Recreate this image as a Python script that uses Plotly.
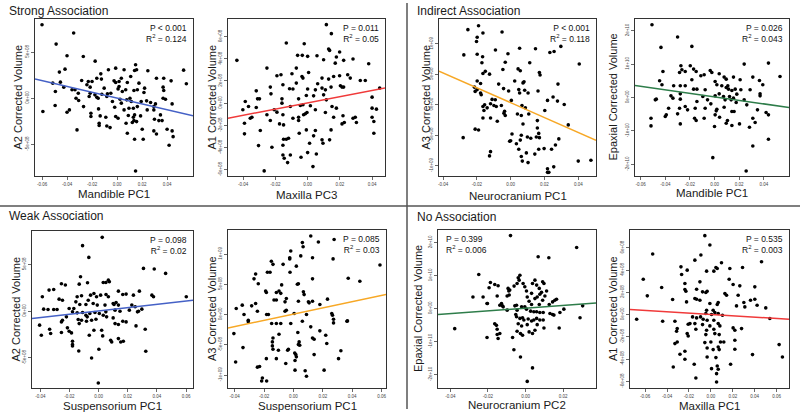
import plotly.graph_objects as go

# ---------------- DATA ----------------
# Panel 1: Strong association, A2 corrected volume (x1e8) vs Mandible PC1
P1_X = [-0.060, -0.0347, -0.0487, -0.040, -0.027, 0.0148, -0.0175, -0.0416, -0.0461, -0.0069, -0.0011, 0.0056, 0.014, 0.0156, 0.0246, 0.0532, -0.013, -0.0162, -0.0283, -0.023, -0.0241, -0.020, -0.0125, -0.0024, -0.0011, 0.0034, 0.0109, 0.0082, 0.0175, 0.0315, 0.0373, 0.0432, 0.0554, -0.0514, -0.0453, -0.0426, -0.0493, -0.036, -0.0336, -0.031, -0.0215, -0.0223, -0.0162, -0.0151, -0.0177, -0.0077, -0.0082, -0.005, 0.0016, 0.0008, 0.0042, 0.0069, 0.0135, 0.0162, 0.022, 0.0215, 0.0368, 0.0373, 0.0387, 0.0368, -0.0037, 0.0024, 0.0034, 0.0077, 0.0103, 0.0114, 0.0193, 0.0236, 0.0268, 0.0307, 0.044, -0.0593, -0.0495, -0.040, -0.0381, -0.0328, -0.0307, -0.0268, -0.0209, -0.0209, -0.0148, -0.0135, -0.009, -0.0019, -0.0011, 0.0008, 0.0095, 0.013, 0.014, 0.013, 0.0135, 0.009, 0.0072, 0.0122, 0.0156, 0.0188, 0.0241, 0.0294, 0.0299, 0.0347, 0.036, 0.0334, -0.032, -0.0143, -0.0143, -0.0082, -0.0056, 0.0082, 0.014, 0.0209, 0.0201, 0.0294, 0.0315, 0.04, 0.044, 0.0448, 0.0416, 0.0148, 0.0016, -0.0103, -0.0122, -0.0215, 0.0294, 0.0056, 0.0162]
P1_Y = [7.97, 7.07, 5.87, 4.60, 4.53, 3.62, 4.02, 3.15, 2.83, 3.08, 3.26, 3.08, 3.01, 3.08, 2.97, 3.04, 2.64, 2.17, 1.92, 1.81, 1.45, 1.81, 2.07, 1.88, 1.70, 2.17, 2.36, 1.70, 1.63, 2.17, 2.17, 1.88, 1.56, 1.63, 1.74, 1.20, 0.72, 0.91, 0.91, 0.54, 0.54, 0.18, 0.11, 0.0, 0.36, 0.47, 0.18, 0.54, 1.27, 1.01, 0.72, 0.91, 0.83, 0.91, 1.09, 0.62, 1.20, 0.83, -0.11, 0.0, -0.36, -0.11, -0.54, -0.18, 0.0, -0.36, -0.36, -0.29, -0.47, -0.62, -0.62, -1.45, -0.80, -1.52, -1.27, 0.0, -0.25, -0.91, -1.99, -1.63, -1.16, -1.92, -2.07, -0.98, -1.99, -2.17, -1.09, -1.09, -1.81, -2.07, -2.43, -1.88, -2.72, -2.64, -2.54, -1.92, -1.27, -1.27, -2.28, -1.81, -2.43, -2.43, -3.44, -2.72, -2.97, -3.01, -3.19, -3.80, -4.46, -4.46, -3.37, -3.55, -3.88, -3.37, -3.55, -4.17, -5.11, -7.90, 1.81, 1.09, 0.43, 1.20, -0.91, -1.27, -0.91]

# Panel 2: A1 corrected volume (x1e8) vs Maxilla PC3
P2_X = [0.0116, 0.0147, -0.0132, -0.0021, 0.013, 0.0136, 0.0198, -0.0438, -0.0062, -0.0033, 0.0, 0.0058, 0.0099, 0.0178, 0.0171, 0.0223, 0.0281, 0.0378, -0.0252, -0.007, -0.019, -0.0165, -0.0097, -0.0035, -0.0029, 0.0006, 0.0062, 0.0089, 0.013, 0.0161, 0.0198, 0.0248, 0.0264, 0.0326, 0.0357, -0.0153, -0.0112, -0.0091, -0.007, 0.0, 0.0048, 0.0089, 0.011, 0.0145, 0.0203, 0.0213, 0.0223, 0.0446, -0.0318, -0.0231, -0.0227, -0.031, -0.0298, -0.0386, -0.0401, -0.0366, -0.0318, -0.0159, -0.0056, -0.0008, 0.0037, 0.0099, 0.0116, -0.0159, -0.0107, -0.0045, -0.0029, 0.0017, 0.0151, 0.0178, 0.0399, 0.0399, 0.0426, -0.0355, -0.0345, -0.0391, -0.0207, -0.019, -0.0153, -0.0252, -0.0231, -0.0174, -0.0149, -0.0091, -0.0056, -0.0025, -0.0014, -0.0004, 0.0048, 0.011, 0.0161, 0.0219, 0.0213, 0.0227, 0.0281, 0.0295, 0.0302, 0.0399, 0.041, 0.041, -0.0391, -0.0293, -0.0056, -0.0052, -0.0008, 0.0012, 0.0037, 0.0048, 0.0089, 0.0095, 0.0136, 0.0145, -0.0304, -0.0221, -0.0153, -0.0118, -0.0132, -0.0149, -0.0107, -0.0153, -0.0145, -0.0124, -0.0041, 0.0, 0.0033, -0.0269, 0.0054]
P2_Y = [7.08, 6.27, 5.42, 5.36, 4.88, 4.76, 4.61, 3.86, 4.31, 4.31, 4.22, 4.28, 3.92, 4.16, 3.61, 3.86, 3.98, 3.55, 3.16, 3.16, 2.47, 2.56, 2.65, 2.41, 2.26, 2.77, 1.75, 2.26, 2.17, 2.41, 2.47, 2.56, 2.26, 2.05, 2.05, 1.66, 1.30, 1.27, 1.81, 1.27, 1.20, 1.36, 1.20, 1.45, 1.57, 1.45, 1.45, 1.36, 1.11, 1.45, 0.84, 0.39, 0.39, 0.15, -0.60, -0.30, -0.39, 0.39, 0.39, 0.69, 0.66, 0.75, 0.30, 0.0, -0.30, -0.21, -0.15, -0.24, -0.30, -0.45, 0.54, -0.45, -0.54, -1.36, -1.27, -1.81, -0.60, -0.81, -1.05, -1.05, -1.57, -1.87, -1.96, -1.36, -1.27, -1.05, -0.96, -0.84, -0.60, -0.84, -1.27, -1.14, -1.87, -1.75, -1.36, -1.27, -1.75, -1.27, -1.66, -2.71, -2.77, -2.47, -1.57, -2.71, -2.41, -3.61, -2.95, -2.47, -3.31, -3.61, -3.31, -2.41, -3.83, -3.98, -3.80, -3.16, -3.25, -3.25, -4.67, -4.67, -4.97, -5.36, -4.88, -4.46, -5.72, -6.11, -4.58]

# Panel 3: A3 corrected volume (x1e8) vs Neurocranium PC1
P3_X = [-0.0253, -0.019, -0.0164, -0.0198, -0.0202, -0.0051, -0.0277, -0.0198, -0.0166, -0.017, -0.009, -0.0016, 0.0053, 0.0147, 0.0232, 0.0257, 0.0297, 0.0113, -0.0032, -0.015, -0.0164, -0.0125, -0.0046, 0.0044, 0.0057, 0.017, 0.0174, 0.0406, -0.0198, -0.0178, -0.0071, -0.0042, -0.0012, 0.0024, 0.0048, 0.0053, 0.0073, 0.0079, 0.0083, 0.0103, 0.0162, 0.028, -0.021, -0.0198, -0.0178, -0.0174, -0.0214, -0.011, -0.0091, -0.0119, -0.0154, -0.0164, -0.0139, -0.0099, -0.0085, -0.0055, -0.0036, -0.004, -0.0032, 0.0004, 0.0067, 0.0087, 0.004, 0.0107, 0.0218, 0.0251, 0.0277, 0.0317, 0.0202, -0.0158, -0.0079, -0.0119, -0.0164, -0.021, -0.019, -0.0281, 0.0063, 0.0073, 0.0158, 0.0158, 0.0063, 0.0008, 0.0057, 0.0099, 0.0119, 0.0152, 0.0166, 0.017, 0.0285, 0.0341, 0.0265, 0.0, -0.0006, 0.0034, 0.0048, 0.0093, 0.0143, 0.0166, 0.0198, 0.0242, -0.0119, -0.0125, 0.0063, 0.0069, 0.0103, 0.0218, 0.0218, 0.0226, 0.0255, 0.04, 0.0475]
P3_Y = [12.35, 13.0, 11.8, 11.1, 10.4, 11.97, 8.2, 8.3, 7.9, 6.9, 9.0, 8.4, 9.3, 9.2, 8.6, 8.75, 9.6, 6.9, 7.0, 5.5, 5.15, 5.04, 5.8, 5.9, 5.6, 5.3, 4.9, 6.7, 3.9, 3.5, 3.4, 2.66, 2.27, 3.9, 2.5, 1.94, 3.6, 3.77, 2.38, 1.94, 2.27, 3.4, 2.2, 2.5, 1.94, 1.66, 2.9, 0.89, 0.83, 0.17, 0.0, -0.28, -0.5, -0.11, -0.28, -0.11, -1.05, -1.39, -1.77, 0.72, -0.11, -0.5, -1.5, -1.5, 0.72, 1.27, 0.61, 0.06, -0.94, -0.94, -2.7, -2.16, -2.16, -4.0, -4.15, -5.4, -1.77, -3.16, -2.6, -3.8, -5.0, -4.8, -5.8, -5.3, -5.5, -5.3, -4.7, -5.4, -5.6, -3.3, -6.6, -5.9, -6.0, -6.4, -7.3, -7.9, -8.1, -7.3, -7.2, -7.3, -7.7, -8.4, -8.5, -9.25, -9.5, -10.5, -11.1, -11.1, -10.2, -9.25, -9.1]

# Panel 4: Epaxial corrected volume (x1e10) vs Mandible PC1
P4_X = [-0.0508, -0.03, -0.0435, -0.0184, 0.0241, 0.0438, -0.0273, -0.0265, -0.0419, -0.0284, -0.0238, -0.0197, -0.017, -0.0149, -0.0111, -0.0084, -0.0035, -0.0022, 0.0038, 0.0078, 0.0095, 0.0154, 0.0208, 0.0311, 0.0365, 0.0392, 0.0532, -0.0446, -0.0427, -0.0332, -0.0278, -0.0238, -0.017, -0.0143, -0.0184, -0.0076, 0.0005, 0.0019, 0.0059, 0.0095, 0.0108, 0.0114, 0.0141, 0.0168, 0.0181, 0.0214, 0.0289, 0.037, 0.037, -0.0354, -0.0338, -0.0278, -0.0278, -0.0473, -0.0481, -0.0095, -0.0057, -0.003, 0.0005, 0.0038, 0.0073, 0.0086, 0.0122, 0.0135, 0.0154, 0.0176, 0.0241, 0.0262, -0.0143, -0.0373, -0.0284, -0.0238, -0.0157, -0.0076, 0.0019, 0.0014, 0.0078, 0.0141, 0.0159, 0.0349, 0.0419, -0.0392, -0.04, -0.03, -0.0219, -0.0162, -0.0149, -0.0084, 0.0005, 0.0041, 0.0095, 0.0105, 0.0141, 0.0438, -0.0516, -0.0516, -0.0278, 0.0, 0.0203, 0.0284, 0.0311, 0.033, 0.0438, 0.0311, -0.0014, 0.0257]
P4_Y = [2.18, 1.81, 1.50, 1.53, 1.0, 1.03, 0.95, 0.83, 0.78, 0.75, 0.78, 0.95, 0.85, 0.78, 0.65, 0.68, 0.81, 0.75, 0.71, 0.61, 0.55, 0.61, 0.53, 0.61, 0.51, 0.38, 0.63, 0.5, 0.38, 0.35, 0.35, 0.35, 0.25, 0.25, 0.53, 0.23, 0.48, 0.38, 0.35, 0.3, 0.35, 0.25, 0.21, 0.25, 0.1, 0.23, 0.23, 0.05, 0.11, 0.05, -0.02, 0.11, -0.05, -0.05, -0.07, 0.03, -0.07, -0.19, 0.05, 0.11, 0.03, -0.07, 0.03, -0.07, -0.02, -0.15, -0.07, -0.22, -0.12, -0.32, -0.32, -0.27, -0.32, -0.32, -0.35, -0.4, -0.29, -0.42, -0.42, -0.37, -0.45, -0.52, -0.57, -0.49, -0.37, -0.62, -0.69, -0.62, -0.52, -0.59, -0.77, -0.69, -0.84, -0.52, -0.62, -0.85, -0.79, -0.87, -0.79, -0.89, -0.62, -0.75, -1.25, -1.45, -1.8, -2.2]

# Panel 5: Weak association, A2 corrected volume (x1e8) vs Suspensorium PC1
P5_X = [0.0025, -0.011, -0.0067, 0.0308, 0.0382, 0.046, -0.0124, 0.0067, 0.0074, -0.0255, -0.0228, -0.0133, -0.0076, 0.0032, 0.005, -0.034, -0.0308, -0.0386, -0.0271, -0.0248, -0.0147, -0.0117, -0.0055, -0.0032, -0.0014, 0.0014, 0.0051, 0.0067, 0.0136, 0.0166, 0.0189, 0.0239, 0.028, 0.0366, 0.0377, 0.0602, -0.0156, -0.0129, -0.0087, -0.0071, -0.0037, -0.0009, 0.0044, 0.01, 0.0106, 0.012, 0.0136, 0.0228, 0.0251, -0.0377, -0.0347, -0.0308, -0.0285, -0.0202, -0.0179, -0.0147, -0.017, -0.011, -0.0087, -0.0078, -0.006, -0.0025, 0.0005, 0.0032, 0.005, 0.0113, 0.0147, 0.0211, 0.0267, 0.0274, 0.0297, -0.0405, -0.0221, -0.0248, -0.0255, -0.014, -0.0133, -0.0117, -0.0083, -0.0048, -0.0018, 0.0055, 0.01, 0.0113, 0.0136, 0.0166, 0.0189, 0.0257, 0.032, -0.0336, -0.0329, -0.0393, -0.0255, -0.0214, -0.0202, -0.0186, -0.0032, 0.0021, 0.0028, 0.0083, 0.009, 0.0136, 0.0152, 0.017, -0.0179, -0.0179, -0.0179, -0.0136, 0.0002, -0.0048, 0.0324, -0.0002, -0.0064]
P5_Y = [7.92, 7.03, 5.77, 4.59, 4.52, 4.05, 3.69, 3.33, 3.15, 2.94, 2.8, 2.9, 3.05, 3.08, 3.08, 2.26, 2.33, 1.54, 1.29, 1.18, 1.54, 1.65, 1.72, 1.9, 1.54, 1.72, 1.79, 1.54, 2.15, 1.79, 1.83, 1.72, 2.15, 1.72, 1.54, 1.54, 1.0, 0.72, 0.72, 1.18, 0.82, 0.65, 0.65, 0.82, 0.72, 0.93, 0.65, 0.65, 0.47, 0.22, 0.18, 0.18, 0.18, 0.29, -0.07, -0.18, 0.29, -0.14, -0.43, -0.61, -0.25, -0.14, -0.25, -0.43, -0.07, 0.11, 0.0, 0.11, -0.07, 0.0, 0.22, -1.5, -0.61, -0.97, -1.15, -0.9, -1.33, -0.97, -1.08, -0.97, -0.86, -0.61, -0.72, -1.33, -1.43, -1.08, -1.15, -1.58, -1.94, -1.94, -2.4, -2.58, -2.29, -1.79, -2.15, -2.33, -2.04, -2.04, -2.65, -3.12, -3.3, -2.94, -3.3, -3.23, -3.23, -3.58, -3.73, -4.27, -4.09, -5.02, -4.3, -7.71, -2.58]

# Panel 6: A3 corrected volume (x1e8) vs Suspensorium PC1
P6_X = [0.0118, 0.0061, 0.0066, 0.017, 0.0277, -0.0018, 0.013, 0.027, 0.005, -0.0025, -0.0025, -0.015, -0.0139, -0.007, 0.002, 0.0589, -0.0177, -0.0159, -0.0257, -0.0023, -0.0268, -0.0239, -0.008, 0.0034, 0.0027, 0.013, 0.0373, 0.0452, -0.0189, -0.0184, -0.0116, -0.0098, -0.0086, -0.0048, -0.0057, -0.0132, -0.0116, 0.0068, 0.0073, 0.0034, 0.0102, 0.0107, 0.013, 0.018, 0.0232, -0.0257, -0.0284, -0.0348, -0.0389, -0.0245, -0.0182, -0.017, -0.0307, -0.0307, -0.0057, -0.0048, 0.0005, 0.0089, 0.0261, 0.0266, 0.0273, 0.0273, 0.0368, -0.0336, -0.0405, -0.0393, -0.0343, -0.0245, -0.023, -0.0211, -0.0216, -0.0182, -0.0184, -0.0148, -0.0116, -0.0086, -0.0098, -0.0139, -0.0143, -0.0143, -0.0139, -0.0102, -0.0116, -0.0039, -0.0034, -0.0018, -0.0052, 0.0009, 0.0016, 0.002, 0.0011, 0.0011, 0.003, 0.0039, 0.0034, 0.0043, 0.0061, 0.0118, 0.013, 0.0141, 0.0141, 0.008, 0.0089, 0.018, 0.022, 0.0227, 0.0209, 0.0307, 0.0323, 0.0364]
P6_Y = [13.0, 11.9, 11.2, 12.0, 12.4, 10.5, 9.4, 9.2, 9.7, 9.4, 9.2, 8.8, 8.3, 8.3, 8.0, 8.2, 7.0, 7.0, 6.7, 7.0, 5.9, 5.1, 4.9, 5.1, 5.0, 5.9, 6.0, 5.5, 3.9, 3.65, 3.65, 3.9, 3.5, 2.65, 2.1, 2.4, 2.4, 3.75, 3.3, 2.2, 2.1, 1.93, 2.2, 1.66, 2.54, 1.82, 1.44, 1.55, 0.99, 0.55, 0.0, 0.0, -0.94, -1.2, 0.55, 0.72, 0.17, 0.0, 0.17, -0.11, -0.77, -1.38, -1.05, 0.0, -3.15, -7.85, -5.47, -8.7, -8.6, -10.5, -11.0, -11.0, -7.3, -1.49, -1.49, -1.49, -3.26, -3.87, -4.53, -5.19, -5.75, -5.9, -7.3, -5.9, -5.75, -1.49, -8.1, -6.35, -6.63, -7.0, -7.6, -9.2, -2.98, -4.53, -4.97, -5.08, -1.1, -2.04, -3.87, -4.09, -6.63, -9.3, -10.2, -2.7, -3.43, -4.8, -9.2, -7.3, -6.0, -1.1]

# Panel 7: No association, Epaxial corrected volume (x1e10) vs Neurocranium PC2
P7_X = [-0.008, 0.0272, 0.0067, 0.0124, -0.0249, -0.0187, -0.0164, -0.0146, -0.0194, -0.0226, -0.0205, -0.0151, -0.0137, -0.0128, -0.0119, -0.0093, -0.0089, -0.0084, -0.0087, -0.0098, -0.0061, -0.0039, -0.003, -0.0034, -0.0045, -0.0013, -0.0004, 0.0005, 0.0009, 0.0019, 0.0037, 0.005, 0.0059, 0.0073, 0.0076, 0.0085, 0.0091, 0.0098, 0.0103, 0.0112, 0.0032, 0.005, 0.0062, 0.0032, 0.0073, 0.0091, 0.0126, 0.0144, 0.0156, 0.0165, 0.0204, 0.0304, 0.029, -0.028, -0.0203, -0.0123, -0.0098, -0.0057, -0.0048, -0.0045, -0.0021, -0.0004, 0.0005, 0.0027, 0.0044, 0.0059, 0.0076, 0.0094, 0.013, 0.0144, 0.0151, 0.0183, -0.0052, -0.0048, -0.003, -0.0016, -0.0009, 0.0014, 0.0032, 0.0044, 0.0059, 0.0076, 0.0094, -0.0039, -0.0021, 0.0009, 0.0062, 0.0098, 0.0179, -0.0164, -0.0155, -0.0151, -0.0151, -0.0146, -0.0137, -0.0205, -0.0045, -0.0027, -0.0016, 0.0019, 0.0037, 0.005, -0.0069, -0.0377, -0.0062, -0.0027, 0.0037, 0.0009]
P7_Y = [2.21, 1.85, 1.57, 1.54, 1.03, 0.79, 0.73, 0.69, 0.63, 0.35, 0.15, 0.38, 0.10, 0.15, 0.05, 0.61, 0.53, 0.56, 0.41, 0.38, 0.68, 0.93, 1.01, 0.86, 0.76, 0.76, 0.66, 0.53, 0.35, 0.22, 0.76, 0.86, 0.71, 0.61, 0.43, 0.49, 0.81, 0.76, 0.38, 0.53, 0.46, 0.30, 0.35, 0.12, 0.12, 0.25, 0.12, 0.20, 0.25, 0.28, -0.02, 0.08, -0.28, 0.35, 0.15, 0.08, -0.05, 0.08, 0.10, -0.05, 0.05, 0.05, -0.02, -0.08, -0.10, -0.10, -0.12, -0.12, -0.15, -0.18, -0.20, -0.12, -0.18, -0.25, -0.30, -0.28, -0.35, -0.32, -0.38, -0.35, -0.30, -0.35, -0.35, -0.46, -0.53, -0.49, -0.49, -0.59, -0.59, -0.46, -0.51, -0.63, -0.79, -0.91, -0.76, -0.88, -0.69, -0.76, -0.81, -0.71, -0.76, -0.66, -0.88, -0.61, -1.25, -1.47, -1.80, -2.21]

# Panel 8: A1 corrected volume (x1e8) vs Maxilla PC1
P8_X = [-0.0055, -0.0009, -0.0531, -0.0091, -0.0146, 0.0462, -0.0273, 0.0046, 0.0058, 0.0097, 0.0173, 0.0289, -0.0216, -0.0039, 0.0027, -0.0267, -0.0617, 0.0167, -0.0237, -0.01, 0.0203, 0.0264, 0.0401, -0.0449, -0.0237, -0.0228, -0.013, -0.0076, -0.0046, -0.0034, 0.0128, 0.0143, 0.0249, 0.0362, 0.0401, -0.058, -0.0349, -0.0222, -0.0146, -0.013, -0.01, -0.0009, 0.0058, 0.0067, 0.0234, 0.0301, 0.031, 0.0422, 0.0501, -0.0039, 0.0021, 0.0036, -0.0046, 0.0006, 0.0067, 0.0106, -0.0677, -0.044, -0.0167, -0.013, -0.0094, -0.0328, -0.0207, -0.0191, -0.0146, -0.007, -0.0076, -0.0034, 0.0027, 0.0067, 0.0082, -0.0009, -0.0307, -0.0313, -0.0137, -0.0039, 0.0027, 0.0203, 0.0219, 0.028, -0.0216, -0.0207, -0.0046, 0.0036, 0.0076, -0.0328, -0.0307, -0.0055, 0.0, 0.0088, 0.0118, 0.0219, 0.0219, -0.0282, -0.0237, -0.0237, -0.0034, 0.0021, 0.0067, 0.0076, -0.0034, 0.0046, 0.0623, 0.0653, 0.038, -0.0343, -0.0152, 0.018, 0.0006, 0.0058, 0.0067, 0.0052, -0.0137, 0.0052, 0.0538]
P8_Y = [7.09, 6.25, 5.44, 5.35, 4.89, 4.74, 4.29, 4.23, 4.14, 4.65, 4.14, 4.23, 3.99, 3.9, 3.9, 3.6, 3.18, 3.18, 2.79, 2.94, 2.7, 2.58, 2.49, 2.43, 2.25, 2.1, 2.28, 2.04, 1.98, 2.1, 1.89, 1.74, 1.74, 1.29, 1.38, 1.68, 1.35, 1.14, 1.44, 1.38, 1.29, 0.99, 0.9, 1.08, 0.78, 1.08, 0.69, 0.84, 0.6, 0.39, 0.39, 0.18, 0.09, 0.0, 0.09, -0.06, -0.42, -0.6, -0.21, -0.3, -0.21, -0.6, -0.87, -0.81, -0.81, -0.42, -0.9, -0.51, -0.51, -0.81, -1.02, -1.02, -1.26, -1.5, -1.32, -1.41, -1.32, -1.2, -1.41, -1.26, -1.71, -1.92, -1.8, -1.71, -1.8, -2.61, -2.46, -2.52, -2.46, -2.46, -2.46, -2.31, -3.12, -3.57, -3.3, -4.02, -3.0, -3.15, -2.91, -3.15, -3.81, -3.87, -2.7, -3.81, -3.6, -4.71, -4.47, -4.47, -4.86, -4.62, -4.92, -5.31, -5.7, -6.06, -0.36]

# Fitted regression lines (slope, intercept in the same scaled units as y)
FIT_SLOPE = [-31.6, 28.0, -122.3, -5.28, 17.8, 51.3, 4.18, -6.0]
FIT_INTERCEPT = [0.0, 0.02, 0.35, 0.02, 0.02, 0.07, 0.011, 0.008]
Y_SCALE = [1e8, 1e8, 1e8, 1e10, 1e8, 1e8, 1e10, 1e8]

P_TEXT = ["P < 0.001", "P = 0.011", "P < 0.001", "P = 0.026", "P = 0.098", "P = 0.085", "P = 0.399", "P = 0.535"]
R2_TEXT = ["0.124", "0.05", "0.118", "0.043", "0.02", "0.03", "0.006", "0.003"]

X_TITLES = ["Mandible PC1", "Maxilla PC3", "Neurocranium PC1", "Mandible PC1",
            "Suspensorium PC1", "Suspensorium PC1", "Neurocranium PC2", "Maxilla PC1"]
Y_TITLES = ["A2 Corrected Volume", "A1 Corrected Volume", "A3 Corrected Volume", "Epaxial Corrected Volume",
            "A2 Corrected Volume", "A3 Corrected Volume", "Epaxial Corrected Volume", "A1 Corrected Volume"]
GROUP_TITLES = ["Strong Association", "Indirect Association", "Weak Association", "No Association"]

X_TICKS = [
    [-0.06, -0.04, -0.02, 0.0, 0.02, 0.04],
    [-0.04, -0.02, 0.0, 0.02, 0.04],
    [-0.04, -0.02, 0.0, 0.02, 0.04],
    [-0.06, -0.04, -0.02, 0.0, 0.02, 0.04],
    [-0.04, -0.02, 0.0, 0.02, 0.04, 0.06],
    [-0.04, -0.02, 0.0, 0.02, 0.04, 0.06],
    [-0.04, -0.02, 0.0, 0.02],
    [-0.06, -0.04, -0.02, 0.0, 0.02, 0.04, 0.06],
]
Y_TICKS = [
    [-5e8, 0, 5e8],
    [-6e8, -4e8, -2e8, 0, 2e8, 4e8, 6e8],
    [-1e9, -5e8, 0, 5e8, 1e9],
    [-2e10, -1e10, 0, 1e10, 2e10],
    [-5e8, 0, 5e8],
    [-1e9, -5e8, 0, 5e8, 1e9],
    [-2e10, -1e10, 0, 1e10, 2e10],
    [-6e8, -4e8, -2e8, 0, 2e8, 4e8, 6e8],
]

XS = [P1_X, P2_X, P3_X, P4_X, P5_X, P6_X, P7_X, P8_X]
YS = [P1_Y, P2_Y, P3_Y, P4_Y, P5_Y, P6_Y, P7_Y, P8_Y]

# ---------------- LAYOUT GEOMETRY (pixels) ----------------
W, H = 800, 419
BOXES = [  # left, right, top, bottom
    (35, 193, 19, 176), (228, 385, 19, 176), (439, 596, 19, 176), (635, 789, 19, 176),
    (32, 193, 231, 388), (228, 386, 230, 388), (438, 596, 230, 388), (630, 789, 230, 388),
]
X_RANGES = [(-0.0656, 0.0607), (-0.0493, 0.0479), (-0.0424, 0.0505), (-0.0646, 0.0605),
            (-0.0457, 0.0648), (-0.0445, 0.063), (-0.0466, 0.0375), (-0.0738, 0.0713)]
Y_RANGES_S = [(-8.44, 8.59), (-6.57, 7.59), (-11.7, 14.1), (-2.35, 2.35),
              (-8.24, 8.6), (-12.15, 13.98), (-2.41, 2.38), (-6.6, 7.6)]
LINE_COLORS = ["#4561c6", "#f03a3a", "#f7a826", "#2e7d4a", "#4561c6", "#f7a826", "#2e7d4a", "#f03a3a"]
YTITLE_X = [17, 211, 425, 612, 15, 212, 418, 613]
XTITLE_Y = [194, 195, 196, 193, 406, 406, 405, 406]
FONT = "Liberation Sans, Arial, Helvetica, sans-serif"


def px(x):
    return x / W


def py(y):
    return 1 - y / H


def fmt_x(v):
    return f"{v:.2f}"


def fmt_y(v):
    if v == 0:
        return "0e+00"
    return f"{v:.0e}"


fig = go.Figure()
annotations = []
layout_axes = {}

for i in range(8):
    n = min(len(XS[i]), len(YS[i]))
    xs = XS[i][:n]
    ys = [v * Y_SCALE[i] for v in YS[i][:n]]
    sfx = "" if i == 0 else str(i + 1)
    xa, ya = "x" + sfx, "y" + sfx
    fig.add_trace(go.Scatter(x=xs, y=ys, mode="markers", xaxis=xa, yaxis=ya,
                             marker=dict(size=3.6, color="black", line=dict(width=0)),
                             showlegend=False, hoverinfo="skip"))
    x0, x1 = X_RANGES[i]
    lx = [x0, x1]
    ly = [(FIT_INTERCEPT[i] + FIT_SLOPE[i] * v) * Y_SCALE[i] for v in lx]
    fig.add_trace(go.Scatter(x=lx, y=ly, mode="lines", xaxis=xa, yaxis=ya,
                             line=dict(color=LINE_COLORS[i], width=1.5),
                             showlegend=False, hoverinfo="skip"))
    l, r, t, b = BOXES[i]
    common = dict(showgrid=False, zeroline=False, showline=True, mirror=True,
                  linecolor="#333333", linewidth=1.2, ticks="outside", ticklen=3,
                  tickwidth=0.8, tickcolor="#444444",
                  tickfont=dict(family=FONT, size=4.5, color="#444444"))
    layout_axes["xaxis" + sfx] = dict(domain=[px(l), px(r)], range=list(X_RANGES[i]), anchor=ya,
                                      tickvals=X_TICKS[i], ticktext=[fmt_x(v) for v in X_TICKS[i]],
                                      **common)
    yr = Y_RANGES_S[i]
    layout_axes["yaxis" + sfx] = dict(domain=[py(b), py(t)], range=[yr[0] * Y_SCALE[i], yr[1] * Y_SCALE[i]],
                                      anchor=xa, tickvals=Y_TICKS[i],
                                      ticktext=[fmt_y(v) for v in Y_TICKS[i]], tickangle=-90,
                                      **common)
    cx = (l + r) / 2
    cy = (t + b) / 2
    annotations.append(dict(x=px(cx), y=py(XTITLE_Y[i]), xref="paper", yref="paper",
                            text=X_TITLES[i], showarrow=False, xanchor="center", yanchor="middle",
                            font=dict(family=FONT, size=11.5, color="#1a1a1a")))
    annotations.append(dict(x=px(YTITLE_X[i]), y=py(cy), xref="paper", yref="paper",
                            text=Y_TITLES[i], showarrow=False, textangle=-90,
                            xanchor="center", yanchor="middle",
                            font=dict(family=FONT, size=11, color="#1a1a1a")))
    # P / R^2 label (one text block, two lines)
    if i == 6:
        ax, anc, al = l + 6, "left", "left"
    else:
        ax, anc, al = r - 4, "right", "right"
    annotations.append(dict(x=px(ax), y=py(t + 2), xref="paper", yref="paper",
                            text=P_TEXT[i] + "<br>R<sup>2</sup> = " + R2_TEXT[i],
                            showarrow=False, xanchor=anc, yanchor="top", align=al,
                            font=dict(family=FONT, size=8.5, color="#111111")))

GROUP_POS = [(7, 11), (415, 11), (7, 216), (415, 217)]
for txt, (gx, gy) in zip(GROUP_TITLES, GROUP_POS):
    annotations.append(dict(x=px(gx), y=py(gy), xref="paper", yref="paper", text=txt,
                            showarrow=False, xanchor="left", yanchor="middle",
                            font=dict(family=FONT, size=12, color="#1a1a1a")))

shapes = [
    dict(type="line", xref="paper", yref="paper", x0=0, x1=1, y0=py(206), y1=py(206),
         line=dict(color="#555555", width=1.5)),
    dict(type="line", xref="paper", yref="paper", x0=px(407), x1=px(407), y0=py(3), y1=py(409),
         line=dict(color="#555555", width=1.5)),
]

fig.update_layout(width=W, height=H, margin=dict(l=0, r=0, t=0, b=0),
                  paper_bgcolor="white", plot_bgcolor="white", hovermode=False,
                  annotations=annotations, shapes=shapes, **layout_axes)

fig.write_html("out.html", config={"displayModeBar": False, "staticPlot": True},
               post_script="document.body.style.margin='0px';document.body.style.overflow='hidden';")
